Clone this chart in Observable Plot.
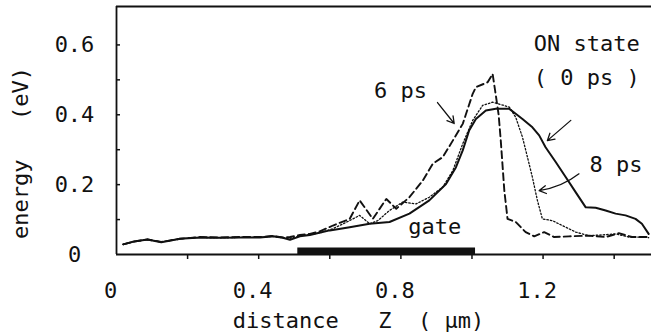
<!DOCTYPE html>
<html>
<head>
<meta charset="utf-8">
<script src="https://cdn.jsdelivr.net/npm/d3@7"></script>
<script src="https://cdn.jsdelivr.net/npm/@observablehq/plot@0.6"></script>
<style>
  html, body { margin: 0; padding: 0; background: #fff; }
  svg { display: block; }
</style>
</head>
<body>
<div id="chart"></div>
<script>
// ---- Data (distance Z in µm, energy in eV) ----
const onStateX = [0.019,0.049,0.087,0.126,0.179,0.235,0.292,0.348,0.404,0.440,0.468,0.488,0.516,0.544,0.600,0.656,0.712,0.768,0.824,0.880,0.927,0.955,0.974,0.992,1.011,1.039,1.067,1.105,1.123,1.142,1.170,1.189,1.207,1.236,1.264,1.292,1.320,1.348,1.376,1.404,1.432,1.460,1.478,1.497];
const onStateY = [0.029,0.037,0.043,0.035,0.045,0.049,0.048,0.049,0.049,0.052,0.048,0.042,0.052,0.056,0.069,0.078,0.088,0.093,0.117,0.155,0.202,0.250,0.298,0.355,0.388,0.412,0.417,0.417,0.403,0.388,0.364,0.341,0.307,0.264,0.221,0.178,0.135,0.134,0.126,0.117,0.112,0.102,0.088,0.059];

const ps6X = [0.019,0.049,0.087,0.126,0.179,0.235,0.292,0.348,0.404,0.440,0.468,0.488,0.516,0.544,0.572,0.609,0.656,0.684,0.721,0.759,0.787,0.824,0.862,0.890,0.918,0.946,0.974,1.002,1.011,1.044,1.058,1.065,1.075,1.081,1.091,1.100,1.123,1.151,1.175,1.203,1.231,1.273,1.329,1.376,1.413,1.450,1.497];
const ps6Y = [0.029,0.037,0.043,0.036,0.045,0.050,0.049,0.050,0.050,0.053,0.049,0.050,0.056,0.059,0.066,0.083,0.102,0.155,0.102,0.159,0.131,0.164,0.212,0.260,0.279,0.326,0.374,0.460,0.479,0.493,0.517,0.470,0.400,0.326,0.183,0.102,0.093,0.064,0.052,0.064,0.050,0.052,0.054,0.050,0.061,0.050,0.050];

const ps8X = [0.019,0.049,0.087,0.126,0.179,0.235,0.292,0.348,0.404,0.440,0.468,0.488,0.516,0.544,0.572,0.609,0.656,0.684,0.712,0.735,0.768,0.805,0.843,0.880,0.918,0.946,0.974,1.002,1.030,1.058,1.086,1.105,1.123,1.142,1.156,1.170,1.184,1.198,1.226,1.254,1.292,1.329,1.366,1.404,1.441,1.488,1.497];
const ps8Y = [0.029,0.037,0.043,0.036,0.045,0.049,0.048,0.049,0.049,0.052,0.048,0.046,0.054,0.057,0.062,0.074,0.097,0.112,0.088,0.097,0.126,0.150,0.145,0.164,0.193,0.240,0.317,0.384,0.427,0.436,0.428,0.422,0.393,0.336,0.279,0.221,0.155,0.102,0.097,0.083,0.064,0.054,0.056,0.059,0.050,0.050,0.048];

// gate electrode extent (µm)
const gateStart = 0.51;
const gateEnd = 1.01;

// axes
const xDomain = [0, 1.505];
const yDomain = [0, 0.71];
const xTickMarks = [0.2, 0.4, 0.6, 0.8, 1.0, 1.2, 1.4];
const xTickLabels = [0, 0.4, 0.8, 1.2];
const yTickMarks = [0.1, 0.2, 0.3, 0.4, 0.5, 0.6];
const yTickLabels = [0, 0.2, 0.4, 0.6];
const xTitle = "distance   Z  ( µm)";
const yTitle = "energy   (eV)";

// annotations
const annoText = ["6 ps", "ON state", "( 0 ps )", "8 ps", "gate"];
const annoX    = [0.799, 1.323, 1.323, 1.405, 0.895];
const annoY    = [0.447, 0.584, 0.484, 0.235, 0.060];

const arrowX1 = [0.903, 1.278];
const arrowY1 = [0.435, 0.384];
const arrowX2 = [0.950, 1.212];
const arrowY2 = [0.375, 0.326];
const bentArrow = {x1: 1.301, y1: 0.231, x2: 1.189, y2: 0.183};

// ---- build rows ----
const rows = (xs, ys) => xs.map((x, i) => ({x, y: ys[i]}));
const onRows = rows(onStateX, onStateY);
const ps6Rows = rows(ps6X, ps6Y);
const ps8Rows = rows(ps8X, ps8Y);
const annos = annoText.map((t, i) => ({t, x: annoX[i], y: annoY[i]}));
const arrows = arrowX1.map((x1, i) => ({x1, y1: arrowY1[i], x2: arrowX2[i], y2: arrowY2[i]}));
const gate = [{start: gateStart, end: gateEnd}];

const FONT = "'DejaVu Sans Mono', 'Liberation Mono', monospace";
const INK = "#111";
const fmt = d => d === 0 ? "0" : d.toFixed(1);

const chart = Plot.plot({
  width: 651,
  height: 335,
  marginLeft: 116,
  marginRight: 0,
  marginTop: 6,
  marginBottom: 81,
  style: {fontFamily: FONT, fontSize: "22px", background: "#fff", color: INK, overflow: "visible"},
  x: {domain: xDomain, label: null},
  y: {domain: yDomain, label: null},
  marks: [
    // frame lines
    Plot.ruleX([xDomain[0]], {stroke: INK, strokeWidth: 1.8}),
    Plot.ruleY([yDomain[0]], {stroke: INK, strokeWidth: 1.8}),
    Plot.ruleY([yDomain[1]], {stroke: INK, strokeWidth: 1.8}),
    // ticks
    Plot.axisX({ticks: xTickMarks, tickSize: 5, tickFormat: () => "", label: null, strokeWidth: 1.5}),
    Plot.axisY({ticks: yTickMarks, tickSize: 4, dx: 4, tickFormat: () => "", label: null, strokeWidth: 1.5}),
    // tick labels
    Plot.axisX({ticks: xTickLabels, tickSize: 0, tickPadding: 28, dx: -6, tickFormat: fmt, label: null, fontSize: 22, fill: INK}),
    Plot.axisY({ticks: yTickLabels, tickSize: 0, tickPadding: 42, textAnchor: "middle", tickFormat: fmt, label: null, fontSize: 22, fill: INK}),
    // gate bar
    Plot.ruleY(gate, {y: () => 0, x1: "start", x2: "end", stroke: INK, strokeWidth: 7, dy: -3.5}),
    // curves
    Plot.line(onRows, {x: "x", y: "y", stroke: INK, strokeWidth: 2}),
    Plot.line(ps6Rows, {x: "x", y: "y", stroke: INK, strokeWidth: 1.9, strokeDasharray: "7,4"}),
    Plot.line(ps8Rows, {x: "x", y: "y", stroke: INK, strokeWidth: 1.3, strokeDasharray: "1.5,2"}),
    // arrows
    Plot.arrow(arrows, {x1: "x1", y1: "y1", x2: "x2", y2: "y2", stroke: INK, strokeWidth: 1.3, headLength: 9}),
    Plot.arrow([bentArrow], {x1: "x1", y1: "y1", x2: "x2", y2: "y2", stroke: INK, strokeWidth: 1.3, headLength: 9, bend: 15}),
    // annotations
    Plot.text(annos, {x: "x", y: "y", text: "t", lineAnchor: "bottom", textAnchor: "middle", fontSize: 22, fill: INK}),
    // axis titles
    Plot.text([xTitle], {frameAnchor: "bottom", textAnchor: "middle", lineAnchor: "bottom", dx: -25.5, dy: 73, fontSize: 22, fill: INK}),
    Plot.text([yTitle], {frameAnchor: "left", textAnchor: "middle", lineAnchor: "middle", rotate: -90, dx: -96, dy: 22.5, fontSize: 22, fill: INK})
  ]
});
document.getElementById("chart").appendChild(chart);
</script>
</body>
</html>
